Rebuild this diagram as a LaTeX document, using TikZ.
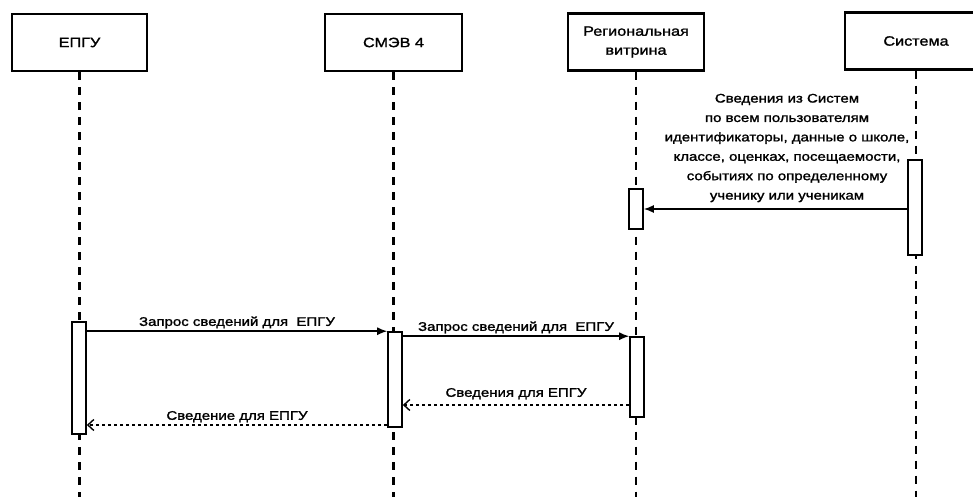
\documentclass[tikz,border=0pt]{standalone}
\usepackage{fontspec}
\setmainfont{Liberation Sans}[FakeStretch=1.2,FakeBold=1.5]
\usetikzlibrary{arrows.meta}

\tikzset{
  actor/.style={draw, line width=2.2pt, minimum width=135pt, minimum height=57pt, align=center, font=\fontsize{13.5}{19}\selectfont},
  lifeline/.style={line width=2.4pt, dash pattern=on 8pt off 7pt},
  act/.style={draw, fill=white, line width=1.6pt, minimum width=14pt, inner sep=0pt},
  msg/.style={-{Latex[length=10pt,width=8pt]}, line width=1.5pt},
  reply/.style={-{Straight Barb[length=6pt,width=11pt]}, line width=1.4pt, dash pattern=on 3pt off 3pt},
  lbl/.style={font=\fontsize{12.5}{19.4}\selectfont, inner sep=2pt},
}

\begin{document}
\begin{tikzpicture}[x=1pt, y=-1pt]
\clip (0,0) rectangle (973,497);
% Participants
\node[actor] (epgu) at (79.5,42.5) {ЕПГУ};
\node[actor, minimum width=137pt] (smev) at (393.5,42.5) {СМЭВ 4};
\node[actor, minimum width=136pt] (vitrina) at (636,42) {Региональная\\витрина};
\node[actor, minimum width=142pt] (sistema) at (916,41) {Система};

% Lifelines
\coordinate (bottom) at (0,497);
\foreach \p in {epgu,smev,vitrina,sistema}
  \draw[lifeline] (\p.south) -- (\p.south |- bottom);

% Activations
\node[act, minimum height=95pt] (sis1) at (915,207.5) {};
\node[act, minimum height=40pt] (vit1) at (636,209) {};
\node[act, minimum height=112pt] (epgu1) at (79,378) {};
\node[act, minimum height=95pt] (smev1) at (395,379.5) {};
\node[act, minimum height=80pt] (vit2) at (637,377) {};

% Data from the system to the regional showcase
\node[lbl, align=center] (info) at (787,148) {Сведения из Систем\\по всем пользователям\\идентификаторы, данные о школе,\\классе, оценках, посещаемости,\\событиях по определенному\\ученику или ученикам};
\draw[msg] (sis1.west |- vit1.east) -- (vit1.east);

% Requests
\draw[msg] (epgu1.east |- smev1.north) -- (smev1.north west) node[lbl, midway, above] {Запрос сведений для\ \ ЕПГУ};
\draw[msg] (smev1.east |- vit2.north) -- (vit2.north west) node[lbl, midway, above] {Запрос сведений для\ \ ЕПГУ};

% Replies
\coordinate (r1) at (0,405);
\coordinate (r2) at (0,425);
\draw[reply] (vit2.west |- r1) -- (smev1.east |- r1) node[lbl, midway, above, yshift=3pt] {Сведения для ЕПГУ};
\draw[reply] (smev1.west |- r2) -- (epgu1.east |- r2) node[lbl, midway, above] {Сведение для ЕПГУ};
\end{tikzpicture}
\end{document}
